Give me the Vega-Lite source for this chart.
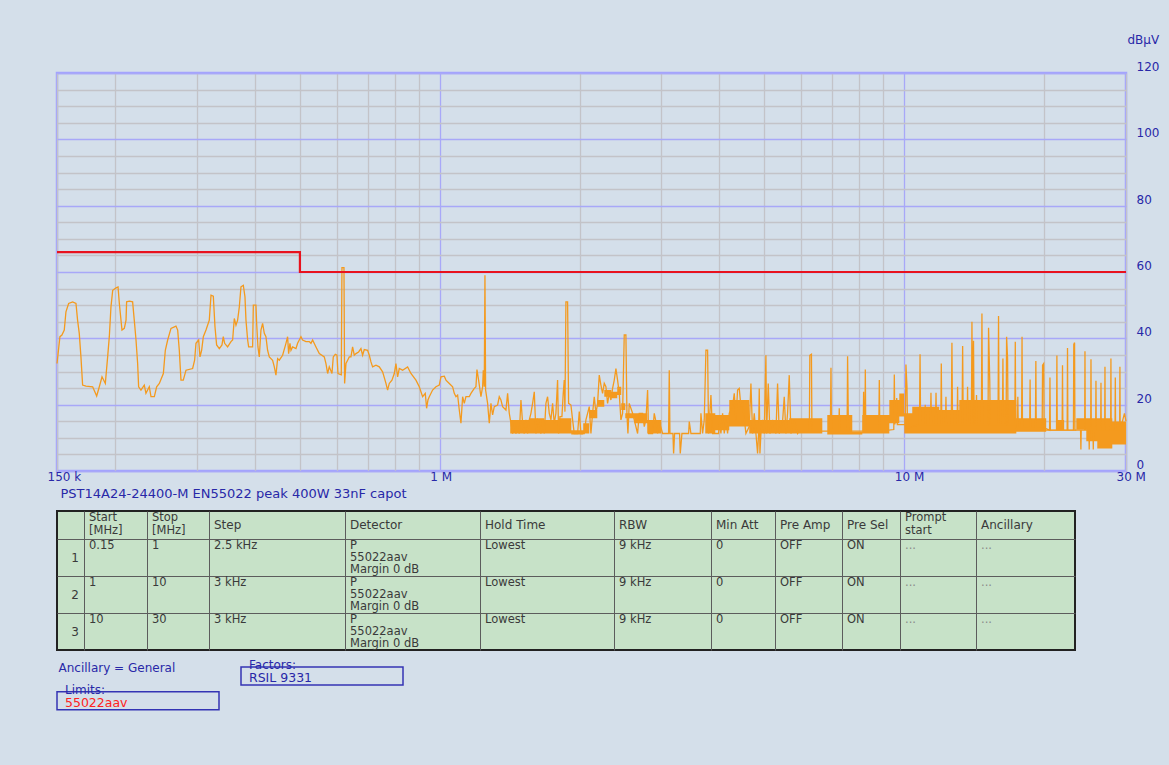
{
"$schema": "https://vega.github.io/schema/vega-lite/v6.json",
"background": "#d4dfea",
"padding": {"left": 45, "top": 31, "right": 12, "bottom": 56},
"config": {
  "font": "DejaVu Sans",
  "view": {"stroke": null},
  "axis": {"labelFont": "DejaVu Sans", "titleFont": "DejaVu Sans"},
  "title": {"font": "DejaVu Sans", "subtitleFont": "DejaVu Sans"},
  "text": {"font": "DejaVu Sans"}
},
"datasets": {
  "limit": [{"f":0.15,"v":66},{"f":0.5,"v":60},{"f":30,"v":60}],
  "band": [
    {"f":1.418,"v":11.3,"hi":15.4},{"f":1.558,"v":11.3,"hi":15.9},{"f":1.679,"v":11.3,"hi":15.4},{"f":1.808,"v":11.3,"hi":15.9},
    {"f":1.919,"v":11.0,"hi":12.3},{"f":2.036,"v":11.3,"hi":14.4},{"f":2.098,"v":15.9,"hi":18.4},{"f":2.183,"v":19.4,"hi":21.4},
    {"f":2.26,"v":22.4,"hi":24.4},{"f":2.34,"v":21.9,"hi":23.9},{"f":2.41,"v":22.9,"hi":25.4},{"f":2.458,"v":18.4,"hi":20.4},
    {"f":2.508,"v":15.9,"hi":17.4},{"f":2.622,"v":14.4,"hi":17.4},{"f":2.797,"v":11.3,"hi":15.4},{"f":2.998,"v":11.3,"hi":11.3},
    {"f":3.728,"v":11.3,"hi":17.4},{"f":3.918,"v":12.3,"hi":16.9},{"f":4.199,"v":13.4,"hi":21.4},{"f":4.636,"v":11.3,"hi":15.4},
    {"f":5.653,"v":11.3,"hi":15.9},{"f":6.659,"v":11.0,"hi":11.0},{"f":6.825,"v":11.0,"hi":16.9},{"f":7.725,"v":11.0,"hi":11.8},
    {"f":8.119,"v":11.3,"hi":16.9},{"f":9.282,"v":14.4,"hi":21.4},{"f":9.753,"v":16.4,"hi":23.4},{"f":9.996,"v":11.3,"hi":17.4},
    {"f":10.4,"v":11.3,"hi":19.4},{"f":11.89,"v":11.3,"hi":18.4},{"f":13.13,"v":11.3,"hi":21.4},{"f":17.42,"v":11.8,"hi":15.9},
    {"f":20.2,"v":12.1,"hi":12.4},{"f":21.23,"v":12.1,"hi":15.4},{"f":22.08,"v":12.1,"hi":12.4},{"f":23.45,"v":12.4,"hi":15.9},
    {"f":24.64,"v":9.0,"hi":15.9},{"f":26.02,"v":6.8,"hi":15.9},{"f":28.03,"v":8.0,"hi":14.9},{"f":30,"v":8.0,"hi":14.9}
  ],
  "trace": [
    {"f":0.15,"v":32.4},{"f":0.1522,"v":40.5},{"f":0.1537,"v":41},{"f":0.1555,"v":42.5},{"f":0.1568,"v":48},{"f":0.1589,"v":50.5},{"f":0.1621,"v":51},{"f":0.1648,"v":50.5},{"f":0.1661,"v":45.5},{"f":0.1675,"v":41.5},{"f":0.1689,"v":34.4},{"f":0.1703,"v":25.9},{"f":0.1732,"v":25.6},{"f":0.179,"v":25.4},{"f":0.1826,"v":22.6},{"f":0.185,"v":25.4},{"f":0.1875,"v":28.4},{"f":0.1906,"v":26.4},{"f":0.1928,"v":34.4},{"f":0.1944,"v":40.5},{"f":0.196,"v":49.5},{"f":0.1977,"v":54.5},{"f":0.201,"v":55.2},{"f":0.203,"v":55.5},{"f":0.2043,"v":50.5},{"f":0.207,"v":42.5},{"f":0.2094,"v":43},{"f":0.2112,"v":45.5},{"f":0.2118,"v":51},{"f":0.2147,"v":51.2},{"f":0.2182,"v":51},{"f":0.22,"v":45.5},{"f":0.2219,"v":39.5},{"f":0.2237,"v":32.4},{"f":0.2248,"v":25.4},{"f":0.2274,"v":24.4},{"f":0.2312,"v":25.9},{"f":0.2331,"v":23.4},{"f":0.237,"v":25.4},{"f":0.239,"v":22.4},{"f":0.243,"v":22.4},{"f":0.2458,"v":25.4},{"f":0.2491,"v":26.4},{"f":0.2541,"v":29.4},{"f":0.2566,"v":36.4},{"f":0.2596,"v":39.5},{"f":0.2639,"v":43},{"f":0.2705,"v":43.7},{"f":0.2728,"v":42.5},{"f":0.275,"v":36.4},{"f":0.2773,"v":27.4},{"f":0.2805,"v":27.4},{"f":0.2843,"v":30.4},{"f":0.2938,"v":30.9},{"f":0.2967,"v":33.4},{"f":0.2987,"v":38.5},{"f":0.3027,"v":39.5},{"f":0.3047,"v":34.4},{"f":0.3072,"v":36.4},{"f":0.3098,"v":40.5},{"f":0.3139,"v":42.5},{"f":0.3191,"v":45.5},{"f":0.3218,"v":53},{"f":0.3255,"v":52.7},{"f":0.3282,"v":43.5},{"f":0.3309,"v":38},{"f":0.3353,"v":36.9},{"f":0.3398,"v":38},{"f":0.342,"v":40.5},{"f":0.3443,"v":38.5},{"f":0.3494,"v":37.4},{"f":0.3553,"v":39},{"f":0.3582,"v":39.5},{"f":0.3612,"v":46},{"f":0.3642,"v":44},{"f":0.3672,"v":45.5},{"f":0.3703,"v":49.5},{"f":0.3733,"v":55.5},{"f":0.3777,"v":56},{"f":0.3808,"v":52.5},{"f":0.3827,"v":45.5},{"f":0.3859,"v":39.5},{"f":0.3878,"v":37.4},{"f":0.3955,"v":37.4},{"f":0.3969,"v":50},{"f":0.4021,"v":50},{"f":0.4035,"v":44.5},{"f":0.4061,"v":37.4},{"f":0.4088,"v":34.4},{"f":0.4122,"v":42.5},{"f":0.4156,"v":44.5},{"f":0.4191,"v":41.5},{"f":0.4225,"v":40.5},{"f":0.426,"v":36.4},{"f":0.4296,"v":34.4},{"f":0.4367,"v":33.4},{"f":0.4404,"v":31.4},{"f":0.444,"v":28.9},{"f":0.4477,"v":33.9},{"f":0.4514,"v":33.4},{"f":0.4589,"v":34.9},{"f":0.4666,"v":38.5},{"f":0.4704,"v":40.5},{"f":0.4728,"v":35.4},{"f":0.4759,"v":38.5},{"f":0.4783,"v":36.4},{"f":0.4822,"v":37.4},{"f":0.4903,"v":36.9},{"f":0.4943,"v":38.5},{"f":0.4984,"v":39.5},{"f":0.5026,"v":40.5},{"f":0.5067,"v":39.5},{"f":0.5152,"v":39},{"f":0.5238,"v":39},{"f":0.5281,"v":38.5},{"f":0.5325,"v":39.5},{"f":0.5414,"v":37.4},{"f":0.5504,"v":35.4},{"f":0.5642,"v":34.4},{"f":0.5689,"v":32.4},{"f":0.5736,"v":29.4},{"f":0.5783,"v":31.4},{"f":0.5861,"v":29.4},{"f":0.5899,"v":34.4},{"f":0.5958,"v":35.2},{"f":0.6008,"v":34.9},{"f":0.6038,"v":29.4},{"f":0.6138,"v":29},{"f":0.6158,"v":61.3},{"f":0.622,"v":61.3},{"f":0.624,"v":26.4},{"f":0.6282,"v":32.4},{"f":0.6334,"v":33.4},{"f":0.6386,"v":34.4},{"f":0.6439,"v":34.4},{"f":0.6492,"v":37.4},{"f":0.6546,"v":34.9},{"f":0.6601,"v":35.4},{"f":0.6688,"v":35.9},{"f":0.6766,"v":36.9},{"f":0.6822,"v":34.9},{"f":0.6879,"v":36.6},{"f":0.6993,"v":36.4},{"f":0.7052,"v":34.9},{"f":0.711,"v":32.9},{"f":0.7169,"v":31.4},{"f":0.7289,"v":31.9},{"f":0.741,"v":31.4},{"f":0.7533,"v":29.9},{"f":0.7659,"v":26.4},{"f":0.7722,"v":24.4},{"f":0.7786,"v":26.4},{"f":0.789,"v":27.4},{"f":0.7982,"v":29.4},{"f":0.8048,"v":32.4},{"f":0.8114,"v":28.4},{"f":0.8182,"v":30.9},{"f":0.8318,"v":30.4},{"f":0.8527,"v":31.4},{"f":0.8669,"v":29.4},{"f":0.8886,"v":27.4},{"f":0.9034,"v":25.4},{"f":0.9185,"v":22.4},{"f":0.9307,"v":23.4},{"f":0.9369,"v":18.9},{"f":0.9431,"v":21.4},{"f":0.9494,"v":22.4},{"f":0.9651,"v":24.4},{"f":0.9813,"v":25.4},{"f":0.9976,"v":25.9},
    {"f":1.0059,"v":28.4},{"f":1.0227,"v":28.6},{"f":1.0312,"v":27.4},{"f":1.0483,"v":26.4},{"f":1.0658,"v":25.4},{"f":1.0746,"v":23.4},{"f":1.0836,"v":22.4},{"f":1.0925,"v":22.9},{"f":1.1016,"v":18.4},{"f":1.1107,"v":14.4},{"f":1.1199,"v":22.4},{"f":1.1292,"v":20.4},{"f":1.1386,"v":22.4},{"f":1.1575,"v":22.4},{"f":1.1672,"v":23.4},{"f":1.1866,"v":24.9},{"f":1.1964,"v":25.4},{"f":1.2024,"v":30.6},{"f":1.2123,"v":27.4},{"f":1.2264,"v":22.4},{"f":1.2366,"v":25.4},{"f":1.2407,"v":30.4},{"f":1.2468,"v":25.4},{"f":1.251,"v":59},{"f":1.2551,"v":24.4},{"f":1.2676,"v":20.4},{"f":1.2781,"v":14.4},{"f":1.2887,"v":20.4},{"f":1.2994,"v":16.9},{"f":1.3102,"v":19.4},{"f":1.332,"v":19.9},{"f":1.343,"v":22.4},{"f":1.3542,"v":21.4},{"f":1.3654,"v":19.4},{"f":1.3882,"v":18.4},{"f":1.3997,"v":23.4},{"f":1.4113,"v":17.4},{"f":1.423,"v":14.4},{"f":1.4347,"v":11.3},{"f":1.4467,"v":14.4},{"f":1.4587,"v":11.3},{"f":1.4707,"v":13.4},{"f":1.483,"v":11.3},{"f":1.4953,"v":21.4},{"f":1.5077,"v":14.4},{"f":1.5202,"v":11.3},{"f":1.5328,"v":15.4},{"f":1.5455,"v":11.3},{"f":1.5583,"v":15.4},{"f":1.5712,"v":17.4},{"f":1.5842,"v":20.4},{"f":1.5975,"v":23.9},{"f":1.6107,"v":11.3},{"f":1.624,"v":15.4},{"f":1.6375,"v":14.4},{"f":1.6511,"v":11.3},{"f":1.6647,"v":15.4},{"f":1.6785,"v":11.3},{"f":1.6925,"v":20.4},{"f":1.7064,"v":22.4},{"f":1.7206,"v":17.4},{"f":1.7349,"v":15.4},{"f":1.7493,"v":20.4},{"f":1.7637,"v":14.4},{"f":1.7784,"v":17.4},{"f":1.7931,"v":27.4},{"f":1.802,"v":11.3},{"f":1.814,"v":16.4},{"f":1.8321,"v":16.4},{"f":1.8441,"v":23.4},{"f":1.8534,"v":27.4},{"f":1.8596,"v":17.9},{"f":1.8688,"v":51},{"f":1.8842,"v":51},{"f":1.8936,"v":20.4},{"f":1.9157,"v":19.9},{"f":1.9316,"v":15.4},{"f":1.9476,"v":11.3},{"f":1.98,"v":11.3},{"f":1.9965,"v":17.9},{"f":2.013,"v":11.3},{"f":2.0465,"v":11.3},{"f":2.0635,"v":15.4},{"f":2.0806,"v":17.4},{"f":2.0979,"v":19.4},{"f":2.1153,"v":11.3},{"f":2.1327,"v":17.4},{"f":2.1504,"v":22.4},{"f":2.1683,"v":17.4},{"f":2.1863,"v":20.4},{"f":2.2044,"v":28.9},{"f":2.2227,"v":25.9},{"f":2.241,"v":23.4},{"f":2.2598,"v":26.4},{"f":2.2785,"v":25.4},{"f":2.2974,"v":20.4},{"f":2.3165,"v":23.4},{"f":2.3357,"v":21.4},{"f":2.355,"v":24.9},{"f":2.3745,"v":27.4},{"f":2.3943,"v":30.9},{"f":2.414,"v":27.4},{"f":2.4341,"v":23.4},{"f":2.4543,"v":15.4},{"f":2.4746,"v":17.4},{"f":2.4951,"v":41},{"f":2.5158,"v":41},{"f":2.5284,"v":17.4},{"f":2.541,"v":11.3},{"f":2.5578,"v":20.4},{"f":2.6004,"v":17.4},{"f":2.622,"v":15.4},{"f":2.6657,"v":11.3},{"f":2.6879,"v":17.4},{"f":2.7327,"v":17.4},{"f":2.7554,"v":13.4},{"f":2.7783,"v":15.4},{"f":2.8013,"v":24.4},{"f":2.8151,"v":11.3},{"f":2.8715,"v":11.3},{"f":2.8953,"v":17.4},{"f":2.9195,"v":14.9},{"f":2.9436,"v":11.3},{"f":2.9681,"v":14.9},{"f":3.0176,"v":11.3},{"f":3.1085,"v":11.3},{"f":3.1188,"v":30.4},{"f":3.1293,"v":11.3},{"f":3.1761,"v":11.3},{"f":3.1866,"v":5.3},{"f":3.2024,"v":11.3},{"f":3.2826,"v":11.3},{"f":3.2936,"v":5.3},{"f":3.321,"v":11.3},{"f":3.4325,"v":11.3},{"f":3.4439,"v":14.9},{"f":3.4725,"v":11.3},{"f":3.6368,"v":11.3},{"f":3.6488,"v":17.4},{"f":3.6791,"v":11.3},{"f":3.7095,"v":15.4},{"f":3.7404,"v":36.4},{"f":3.7713,"v":36.4},{"f":3.7901,"v":11.3},{"f":3.8343,"v":22.9},{"f":3.866,"v":11.3},{"f":3.9825,"v":11.3},{"f":3.9959,"v":14.9},{"f":4.029,"v":11.3},{"f":4.0622,"v":17.4},{"f":4.0961,"v":11.3},{"f":4.1301,"v":15.4},{"f":4.1643,"v":11.3},{"f":4.1988,"v":17.4},{"f":4.2687,"v":19.4},{"f":4.3041,"v":23.4},{"f":4.3398,"v":15.4},{"f":4.3758,"v":24.4},{"f":4.4121,"v":24.9},{"f":4.4487,"v":19.4},{"f":4.4855,"v":20.4},{"f":4.5605,"v":11.3},{"f":4.6364,"v":13.4},{"f":4.6749,"v":26.4},{"f":4.7136,"v":11.3},{"f":4.7526,"v":17.4},{"f":4.7921,"v":11.3},{"f":4.8317,"v":5.3},{"f":4.8557,"v":11.3},{"f":4.8717,"v":24.9},{"f":4.8879,"v":5.3},{"f":4.9122,"v":11.3},{"f":4.9529,"v":15.4},{"f":4.994,"v":11.3},{"f":5.0354,"v":34.9},{"f":5.052,"v":11.3},{"f":5.0939,"v":26.4},{"f":5.1362,"v":11.3},{"f":5.2043,"v":15.4},{"f":5.2913,"v":11.3},{"f":5.3351,"v":26.4},{"f":5.3793,"v":11.3},{"f":5.4689,"v":14.9},{"f":5.5143,"v":22.4},{"f":5.5602,"v":11.3},{"f":5.606,"v":17.4},{"f":5.6526,"v":28.9},{"f":5.6996,"v":11.3},{"f":5.7947,"v":14.9},{"f":5.8913,"v":11.3},
    {"f":5.94,"v":12},{"f":6.245,"v":12},{"f":6.26,"v":34.9},{"f":6.31,"v":35.2},{"f":6.325,"v":12},{"f":6.93,"v":12},{"f":6.951,"v":31.1},{"f":6.97,"v":12},{"f":7.225,"v":12},{"f":7.243,"v":18.9},{"f":7.26,"v":12},{"f":7.53,"v":12},{"f":7.548,"v":34.6},{"f":7.56,"v":26.2},{"f":7.58,"v":12},{"f":8.155,"v":12},{"f":8.172,"v":23.9},{"f":8.2,"v":12},{"f":8.225,"v":12},{"f":8.241,"v":30.6},{"f":8.26,"v":12},{"f":8.81,"v":12},{"f":8.833,"v":27.4},{"f":8.855,"v":12},{"f":9.49,"v":12.5},{"f":9.515,"v":29.1},{"f":9.54,"v":14},{"f":9.63,"v":22},{"f":9.66,"v":14},{"f":10.05,"v":14},{"f":10.08,"v":32.1},{"f":10.13,"v":25.4},{"f":10.16,"v":13},{"f":10.78,"v":14},{"f":10.81,"v":35.2},{"f":10.84,"v":14},{"f":11.07,"v":14},{"f":11.09,"v":20},{"f":11.11,"v":14},{"f":11.38,"v":14},{"f":11.41,"v":23.6},{"f":11.44,"v":14},{"f":11.67,"v":14},{"f":11.7,"v":23.6},{"f":11.73,"v":14},{"f":11.98,"v":14},{"f":12.01,"v":32.4},{"f":12.04,"v":14},{"f":12.26,"v":14},{"f":12.29,"v":22.4},{"f":12.32,"v":14},{"f":12.62,"v":14},{"f":12.66,"v":38.7},{"f":12.7,"v":14},{"f":12.99,"v":14},{"f":13.02,"v":25.4},{"f":13.05,"v":14},{"f":13.31,"v":14},{"f":13.35,"v":37.7},{"f":13.39,"v":14},{"f":13.65,"v":14},{"f":13.68,"v":25.4},{"f":13.71,"v":14},{"f":13.94,"v":14},{"f":13.98,"v":45},{"f":14.02,"v":20},{"f":14.09,"v":39.3},{"f":14.13,"v":14},{"f":14.27,"v":14},{"f":14.3,"v":22.9},{"f":14.33,"v":14},{"f":14.65,"v":14},{"f":14.69,"v":47.5},{"f":14.73,"v":14},{"f":15.14,"v":14},{"f":15.18,"v":43.2},{"f":15.27,"v":27.2},{"f":15.31,"v":14},{"f":15.91,"v":14},{"f":15.95,"v":46.7},{"f":15.99,"v":14},{"f":16.26,"v":14},{"f":16.3,"v":33.9},{"f":16.34,"v":14},{"f":16.56,"v":14},{"f":16.6,"v":40.5},{"f":16.68,"v":34},{"f":16.72,"v":14},{"f":17.29,"v":14},{"f":17.33,"v":39},{"f":17.37,"v":13},{"f":17.51,"v":13},{"f":17.55,"v":22.4},{"f":17.59,"v":13},{"f":17.88,"v":13},{"f":17.92,"v":40.5},{"f":17.96,"v":13},{"f":18.61,"v":13},{"f":18.65,"v":27.6},{"f":18.69,"v":13},{"f":19.15,"v":13},{"f":19.19,"v":33.2},{"f":19.23,"v":13},{"f":19.8,"v":13},{"f":19.84,"v":31.9},{"f":19.95,"v":32.4},{"f":19.99,"v":13},{"f":20.54,"v":12.3},{"f":20.58,"v":28.2},{"f":20.62,"v":12.3},{"f":21.26,"v":12.3},{"f":21.3,"v":34.8},{"f":21.34,"v":12.3},{"f":21.86,"v":12.3},{"f":21.9,"v":31.9},{"f":21.94,"v":12.3},{"f":22.41,"v":12.3},{"f":22.45,"v":37.1},{"f":22.49,"v":12.3},{"f":23.12,"v":12.3},{"f":23.16,"v":38.2},{"f":23.25,"v":38.7},{"f":23.29,"v":12.3},{"f":23.95,"v":12.3},{"f":23.99,"v":6.5},{"f":24.03,"v":12.3},{"f":24.44,"v":12.3},{"f":24.48,"v":36.1},{"f":24.52,"v":12.3},{"f":24.96,"v":12.3},{"f":25,"v":6.5},{"f":25.04,"v":12.3},{"f":25.18,"v":12.3},{"f":25.22,"v":33.7},{"f":25.26,"v":12.3},{"f":25.47,"v":12.3},{"f":25.51,"v":6.5},{"f":25.55,"v":12.3},{"f":25.81,"v":12.3},{"f":25.85,"v":27.2},{"f":25.89,"v":12.3},{"f":26.46,"v":12.3},{"f":26.5,"v":26.6},{"f":26.54,"v":12.3},{"f":26.99,"v":12.3},{"f":27.03,"v":31.4},{"f":27.07,"v":12.3},{"f":27.8,"v":12.3},{"f":27.84,"v":33.9},{"f":27.88,"v":12.3},{"f":28.41,"v":12.3},{"f":28.45,"v":28.2},{"f":28.49,"v":12.3},{"f":29.07,"v":12.3},{"f":29.11,"v":31.4},{"f":29.15,"v":12.3},{"f":29.77,"v":17.4},{"f":30,"v":15}
  ],
  "cells": [
    {"c":1,"r":0,"t":"Start\n[MHz]"},{"c":2,"r":0,"t":"Stop\n[MHz]"},{"c":3,"r":0,"t":"Step"},{"c":4,"r":0,"t":"Detector"},{"c":5,"r":0,"t":"Hold Time"},{"c":6,"r":0,"t":"RBW"},{"c":7,"r":0,"t":"Min Att"},{"c":8,"r":0,"t":"Pre Amp"},{"c":9,"r":0,"t":"Pre Sel"},{"c":10,"r":0,"t":"Prompt\nstart"},{"c":11,"r":0,"t":"Ancillary"},
    {"c":1,"r":1,"t":"0.15"},{"c":2,"r":1,"t":"1"},{"c":3,"r":1,"t":"2.5 kHz"},{"c":4,"r":1,"t":"P\n55022aav\nMargin 0 dB"},{"c":5,"r":1,"t":"Lowest"},{"c":6,"r":1,"t":"9 kHz"},{"c":7,"r":1,"t":"0"},{"c":8,"r":1,"t":"OFF"},{"c":9,"r":1,"t":"ON"},{"c":10,"r":1,"t":"..."},{"c":11,"r":1,"t":"..."},
    {"c":1,"r":2,"t":"1"},{"c":2,"r":2,"t":"10"},{"c":3,"r":2,"t":"3 kHz"},{"c":4,"r":2,"t":"P\n55022aav\nMargin 0 dB"},{"c":5,"r":2,"t":"Lowest"},{"c":6,"r":2,"t":"9 kHz"},{"c":7,"r":2,"t":"0"},{"c":8,"r":2,"t":"OFF"},{"c":9,"r":2,"t":"ON"},{"c":10,"r":2,"t":"..."},{"c":11,"r":2,"t":"..."},
    {"c":1,"r":3,"t":"10"},{"c":2,"r":3,"t":"30"},{"c":3,"r":3,"t":"3 kHz"},{"c":4,"r":3,"t":"P\n55022aav\nMargin 0 dB"},{"c":5,"r":3,"t":"Lowest"},{"c":6,"r":3,"t":"9 kHz"},{"c":7,"r":3,"t":"0"},{"c":8,"r":3,"t":"OFF"},{"c":9,"r":3,"t":"ON"},{"c":10,"r":3,"t":"..."},{"c":11,"r":3,"t":"..."}
  ],
  "rownums": [{"c":1,"r":1,"t":"1"},{"c":1,"r":2,"t":"2"},{"c":1,"r":3,"t":"3"}]
},
"vconcat": [
  {
    "width": 1069,
    "height": 398,
    "view": {"stroke": "#a3a3ff", "strokeWidth": 2.5},
    "encoding": {
      "x": {"field": "f", "type": "quantitative",
        "scale": {"type": "log", "domain": [0.15, 30], "nice": false},
        "axis": {
          "orient": "bottom",
          "values": [0.15,0.2,0.3,0.4,0.5,0.6,0.7,0.8,0.9,1,2,3,4,5,6,7,8,9,10,20,30],
          "labelExpr": "datum.value == 0.15 ? '150 k' : datum.value == 1 ? '1 M' : datum.value == 10 ? '10 M' : datum.value == 30 ? '30 M' : ''",
          "grid": true,
          "gridColor": {"condition": {"test": "datum.value == 1 || datum.value == 10", "value": "#a8a8f8"}, "value": "#c3c3c8"},
          "gridWidth": 1.3,
          "ticks": false, "domain": false,
          "labelColor": "#2828a8", "labelFontSize": 12, "labelAlign": "left", "labelOffset": -10,
          "labelBaseline": "middle", "labelPadding": 5.5,
          "labelOverlap": false, "labelFlush": false, "labelBound": false,
          "title": "PST14A24-24400-M EN55022 peak 400W 33nF capot",
          "titleColor": "#2828a8", "titleFontSize": 13, "titleFontWeight": "normal",
          "titleAlign": "left", "titleAnchor": "start", "titleBaseline": "middle", "titleX": 3, "titleY": 22.4
        }
      },
      "y": {"field": "v", "type": "quantitative",
        "scale": {"domain": [0, 120], "nice": false},
        "axis": {
          "orient": "right",
          "values": [0,5,10,15,20,25,30,35,40,45,50,55,60,65,70,75,80,85,90,95,100,105,110,115,120],
          "labelExpr": "datum.value % 20 == 0 ? datum.label : ''",
          "grid": true,
          "gridColor": {"condition": {"test": "datum.value % 20 == 0", "value": "#a8a8f8"}, "value": "#c3c3c8"},
          "gridWidth": 1.3,
          "ticks": false, "domain": false,
          "labelColor": "#2828a8", "labelFontSize": 12, "labelAlign": "left", "labelBaseline": "middle",
          "labelPadding": 10, "labelOffset": -6.5, "labelOverlap": false, "labelBound": false, "labelFlush": false,
          "title": "dBµV", "titleColor": "#2828a8", "titleFontSize": 12, "titleFontWeight": "normal",
          "titleAngle": 0, "titleAlign": "left", "titleBaseline": "middle", "titleX": 1, "titleY": -34
        }
      }
    },
    "layer": [
      {
        "data": {"name": "band"},
        "mark": {"type": "area", "interpolate": "step-after", "color": "#f49a1e", "opacity": 1},
        "encoding": {"y2": {"field": "hi"}}
      },
      {
        "data": {"name": "trace"},
        "mark": {"type": "line", "color": "#f49a1e", "strokeWidth": 1.3}
      },
      {
        "data": {"name": "limit"},
        "mark": {"type": "line", "interpolate": "step-after", "color": "#e8121e", "strokeWidth": 2.2}
      }
    ]
  },
  {
    "vconcat": [
      {
        "width": 1018,
        "height": 139,
        "view": {"fill": "#c7e2c8", "stroke": "#222222", "strokeWidth": 2},
        "encoding": {
          "x": {"field": "c", "type": "quantitative",
            "scale": {"domain": [0,1,2,3,4,5,6,7,8,9,10,11,12], "range": [0,27,90,152,288,423,557,654,718,785,843,919,1018], "nice": false, "zero": false},
            "axis": {"values": [1,2,3,4,5,6,7,8,9,10,11], "grid": true, "gridColor": "#5c5c5c", "gridWidth": 1, "labels": false, "ticks": false, "domain": false, "title": null}},
          "y": {"field": "r", "type": "quantitative",
            "scale": {"domain": [0,1,2,3,4], "range": [0,28,65,102,139], "nice": false, "zero": false},
            "axis": {"values": [1,2,3], "grid": true, "gridColor": "#5c5c5c", "gridWidth": 1, "labels": false, "ticks": false, "domain": false, "title": null}},
          "text": {"field": "t"}
        },
        "layer": [
          {
            "data": {"name": "cells"},
            "transform": [{"filter": "datum.r == 0 && indexof(datum.t, '\\n') < 0"}],
            "mark": {"type": "text", "align": "left", "baseline": "middle", "dx": 5, "dy": 14, "fontSize": 12, "color": "#3a3a3a"}
          },
          {
            "data": {"name": "cells"},
            "transform": [{"filter": "datum.r == 0 && indexof(datum.t, '\\n') >= 0"}],
            "mark": {"type": "text", "align": "left", "baseline": "top", "dx": 5, "dy": 1, "lineBreak": "\n", "lineHeight": 12.5, "fontSize": 11.5, "color": "#3a3a3a"}
          },
          {
            "data": {"name": "cells"},
            "transform": [{"filter": "datum.r > 0"}],
            "mark": {"type": "text", "align": "left", "baseline": "top", "dx": 5, "dy": 1, "lineBreak": "\n", "lineHeight": 12, "fontSize": 11.5},
            "encoding": {
              "color": {"condition": {"test": "datum.t == '...'", "value": "#8a8a8a"}, "value": "#3a3a3a"}
            }
          },
          {
            "data": {"name": "rownums"},
            "mark": {"type": "text", "align": "right", "baseline": "middle", "dx": -5, "dy": 18.5, "fontSize": 12, "color": "#3a3a3a"}
          }
        ]
      },
      {
        "hconcat": [
          {
            "vconcat": [
              {
                "width": 1, "height": 1,
                "data": {"values": [{"t": "Ancillary = General"}]},
                "mark": {"type": "text", "align": "left", "baseline": "middle", "dx": 1, "dy": 0, "fontSize": 12, "color": "#2828a8"},
                "encoding": {"text": {"field": "t"}}
              },
              {
                "width": 162, "height": 18,
                "view": {"stroke": "#3434b4", "strokeWidth": 1.5},
                "title": {"text": "Limits:", "subtitle": "55022aav", "anchor": "start", "frame": "group", "orient": "top", "offset": -18.5, "dx": 8,
                  "fontSize": 12, "fontWeight": "normal", "color": "#2828a8", "subtitleColor": "#ff2222", "subtitleFontSize": 12.5, "subtitlePadding": 0},
                "data": {"values": [{}]},
                "mark": {"type": "text", "text": ""}
              }
            ],
            "spacing": 23.7,
            "bounds": "flush"
          },
          {
            "width": 162, "height": 18,
            "view": {"stroke": "#3434b4", "strokeWidth": 1.5},
            "title": {"text": "Factors:", "subtitle": "RSIL 9331", "anchor": "start", "frame": "group", "orient": "top", "offset": -18.5, "dx": 8,
              "fontSize": 12, "fontWeight": "normal", "color": "#2828a8", "subtitleColor": "#2828a8", "subtitleFontSize": 12.5, "subtitlePadding": 0},
            "data": {"values": [{}]},
            "mark": {"type": "text", "text": ""}
          }
        ],
        "spacing": 20
      }
    ],
    "spacing": 17,
    "bounds": "flush"
  }
],
"spacing": 40,
"bounds": "flush"
}
